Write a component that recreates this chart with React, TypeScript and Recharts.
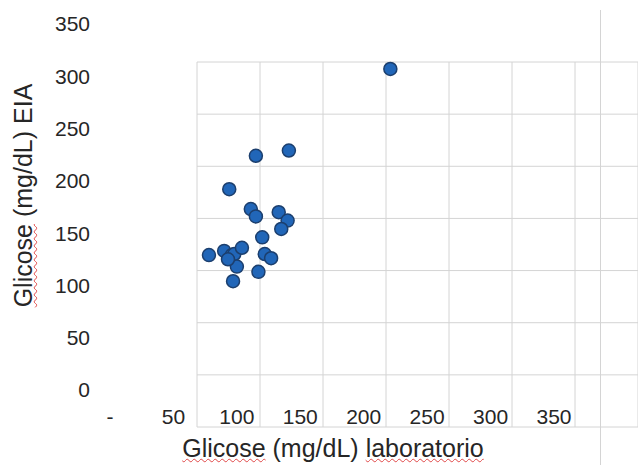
import { ScatterChart, Scatter, XAxis, YAxis, ReferenceLine } from "recharts";

// Glicose laboratorio (x) vs Glicose EIA (y)
const labValues = [221, 115, 141, 94, 111, 115, 133, 140, 135, 120, 78, 90, 96, 98, 104, 100, 122, 127, 117, 97, 93];
const eiaValues = [307, 224, 229, 192, 173, 166, 170, 162, 154, 146, 129, 133, 129, 130, 136, 118, 130, 126, 113, 104, 125];

const xTicks = [0, 50, 100, 150, 200, 250, 300, 350];
const yTicks = [0, 50, 100, 150, 200, 250, 300, 350];

// background sheet grid (cells)
const sheetCols = [0, 1, 2, 3, 4, 5, 6, 7];
const sheetRows = [0, 1, 2, 3, 4, 5, 6, 7];

const points = labValues.map((x, i) => ({ x, y: eiaValues[i] }));
const sheetCells = sheetCols.map((c, i) => ({ x: c, y: sheetRows[i] }));

const FONT = '"Liberation Sans", Arial, sans-serif';
const TEXT = "#262626";
const GRID = "#d4d4d4";

const wavy: React.CSSProperties = {
  textDecorationLine: "underline",
  textDecorationStyle: "wavy",
  textDecorationColor: "#e04848",
  textDecorationThickness: "1px",
  textUnderlineOffset: "1px",
};

const titleStyle: React.CSSProperties = {
  position: "absolute",
  width: 320,
  height: 25,
  lineHeight: "25px",
  fontSize: 25,
  fontFamily: FONT,
  color: TEXT,
  textAlign: "center",
  whiteSpace: "nowrap",
};

const Dot = (props: any) => (
  <circle cx={props.cx} cy={props.cy} r={6.5} fill="#2166b8" stroke="#1c3f6e" strokeWidth={1.5} />
);

const NoDot = () => <g />;

export default function App() {
  return (
    <div style={{ position: "absolute", left: 0, top: 0, width: 638, height: 465, background: "#fff", overflow: "hidden" }}>
      {/* spreadsheet grid behind the chart */}
      <div style={{ position: "absolute", left: 0, top: 0 }}>
        <ScatterChart width={638} height={465} margin={{ top: 62, left: 197, right: 0, bottom: 38 }}>
          <XAxis type="number" dataKey="x" domain={[0, 7]} ticks={sheetCols} height={0} axisLine={false} tickLine={false} tick={false} />
          <YAxis type="number" dataKey="y" domain={[0, 7]} ticks={sheetRows} width={0} axisLine={false} tickLine={false} tick={false} />
          {sheetCols.map((c) => (
            <ReferenceLine key={`c${c}`} x={c} stroke={GRID} strokeWidth={1} ifOverflow="visible" />
          ))}
          {sheetRows.map((r) => (
            <ReferenceLine key={`r${r}`} y={r} stroke={GRID} strokeWidth={1} ifOverflow="visible" />
          ))}
          <Scatter data={sheetCells} shape={NoDot} isAnimationActive={false} />
        </ScatterChart>
      </div>
      <div style={{ position: "absolute", left: 600, top: 10, width: 1, height: 455, background: GRID }} />

      {/* the chart itself */}
      <div style={{ position: "absolute", left: 0, top: 0 }}>
        <ScatterChart width={638} height={465} margin={{ top: 24, left: 0, right: 84, bottom: 0 }}>
          <XAxis
            type="number"
            dataKey="x"
            domain={[0, 350]}
            ticks={xTicks}
            height={75}
            axisLine={false}
            tickLine={false}
            tickSize={0}
            tickMargin={19}
            interval={0}
            tickFormatter={(v) => (v === 0 ? "-" : String(v))}
            tick={{ fill: TEXT, fontSize: 21, fontFamily: FONT }}
          />
          <YAxis
            type="number"
            dataKey="y"
            domain={[0, 350]}
            ticks={yTicks}
            width={110}
            axisLine={false}
            tickLine={false}
            tickSize={0}
            tickMargin={20}
            interval={0}
            tick={{ fill: TEXT, fontSize: 21, fontFamily: FONT }}
          />
          <Scatter data={points} shape={Dot} isAnimationActive={false} />
        </ScatterChart>
      </div>

      {/* axis titles */}
      <div style={{ ...titleStyle, left: 23 - 160, top: 195 - 12.5, transform: "rotate(-90deg)" }}>
        <span style={wavy}>Glicose</span> (mg/dL) EIA
      </div>
      <div style={{ ...titleStyle, left: 333 - 160, top: 436 }}>
        <span style={wavy}>Glicose</span> (mg/dL) <span style={wavy}>laboratorio</span>
      </div>
    </div>
  );
}
